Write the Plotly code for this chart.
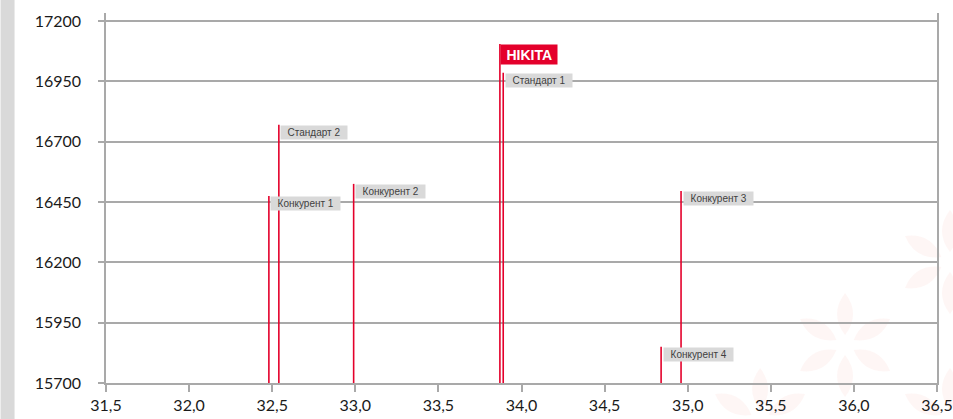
import math
import plotly.graph_objects as go

# ---- data ----
names = ["Конкурент 1", "Стандарт 2", "Конкурент 2", "HIKITA", "Стандарт 1", "Конкурент 3", "Конкурент 4"]
x_vals = [32.48, 32.54, 32.99, 33.87, 33.89, 34.96, 34.84]
y_vals = [16475, 16770, 16525, 17105, 16985, 16495, 15850]
y_base = 15700
x_ticks = [31.5, 32.0, 32.5, 33.0, 33.5, 34.0, 34.5, 35.0, 35.5, 36.0, 36.5]
y_ticks = [15700, 15950, 16200, 16450, 16700, 16950, 17200]

RED = "#e4002b"
GRID = "#a9a9a9"

W, H = 953, 419
ML, MR, MT, MB = 105.5, 16, 13, 36
pw = W - ML - MR
ph = H - MT - MB

fig = go.Figure()

lx, ly = [], []
for xv, yv in zip(x_vals, y_vals):
    lx += [xv, xv, None]
    ly += [y_base, yv, None]
fig.add_trace(go.Scatter(x=lx, y=ly, mode="lines", line=dict(color=RED, width=1.6),
                         hoverinfo="skip", showlegend=False))

for n, xv, yv in zip(names, x_vals, y_vals):
    if n == "HIKITA":
        fig.add_annotation(x=xv, y=yv, text="<b>\u00a0" + n + "\u00a0</b>", showarrow=False,
                           xanchor="left", yanchor="top", xshift=0,
                           bgcolor=RED, borderpad=1.5,
                           font=dict(family="Liberation Sans, Arial", size=14, color="white"))
    else:
        fig.add_annotation(x=xv, y=yv, text="\u00a0\u00a0" + n + "\u00a0\u00a0", showarrow=False,
                           xanchor="left", yanchor="top", xshift=1.5,
                           bgcolor="#d9d9d9", borderpad=1,
                           font=dict(family="Liberation Sans, Arial", size=10, color="#404040"))

# left grey strip
fig.add_shape(type="rect", xref="paper", yref="paper",
              x0=-ML / pw, x1=-(ML - 14) / pw, y0=-MB / ph, y1=1 + MT / ph,
              fillcolor="#d9d9d9", line=dict(width=0), layer="below")


# faint decorative petal pattern (background ornament)
def P(px, py):
    return (px - ML) / pw, 1 - (py - MT) / ph


def petal(cx, cy, ang, r0=10, r1=52, w=16):
    a = math.radians(ang)
    ux, uy = math.cos(a), math.sin(a)
    vx, vy = -uy, ux
    p0 = (cx + ux * r0, cy + uy * r0)
    p1 = (cx + ux * r1, cy + uy * r1)
    m = ((p0[0] + p1[0]) / 2, (p0[1] + p1[1]) / 2)
    c1 = (m[0] + vx * w, m[1] + vy * w)
    c2 = (m[0] - vx * w, m[1] - vy * w)
    pts = [P(*p) for p in (p0, c1, p1, c2)]
    return "M {0[0]},{0[1]} Q {1[0]},{1[1]} {2[0]},{2[1]} Q {3[0]},{3[1]} {0[0]},{0[1]} Z".format(*pts)


for (cx, cy) in [(845, 345), (950, 262), (950, 420), (760, 420)]:
    for k in range(6):
        fig.add_shape(type="path", xref="paper", yref="paper",
                      path=petal(cx, cy, 30 + 60 * k),
                      fillcolor="rgba(235,110,90,0.06)", line=dict(width=0), layer="below")

fig.update_layout(
    width=W, height=H,
    margin=dict(l=ML, r=MR, t=MT, b=MB, autoexpand=False),
    paper_bgcolor="white", plot_bgcolor="rgba(0,0,0,0)",
    separators=", ",
    showlegend=False,
)
fig.update_xaxes(range=[31.5, 36.5], tickvals=x_ticks, tickformat=".1f", automargin=False,
                 showgrid=False, zeroline=False,
                 showline=True, linecolor=GRID, linewidth=1.5,
                 ticks="outside", ticklen=7, tickcolor=GRID, tickwidth=1.5,
                 tickfont=dict(family="Lato", size=16, color="#1a1a1a"))
fig.update_yaxes(range=[15700, 17233], tickvals=y_ticks, tickformat="d", automargin=False,
                 showgrid=True, gridcolor=GRID, gridwidth=1.5, zeroline=False,
                 showline=True, mirror=True, linecolor=GRID, linewidth=1.5,
                 ticks="outside", ticklen=6, tickcolor=GRID, tickwidth=1.5,
                 ticklabelstandoff=14,
                 tickfont=dict(family="Lato", size=16, color="#1a1a1a"))

fig.write_html("out.html", config={"displayModeBar": False},
               post_script="document.body.style.margin='0px';document.body.style.overflow='hidden';")
